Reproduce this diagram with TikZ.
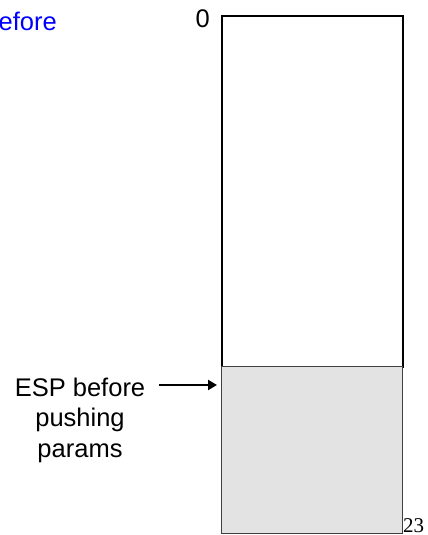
\documentclass[tikz,border=0pt]{standalone}
\usepackage{fontspec}
\setmainfont{Liberation Sans}
\newfontfamily\pagenumfont{Liberation Serif}
\usetikzlibrary{arrows.meta,positioning}

\begin{document}
\begin{tikzpicture}[x=1pt,y=-1pt,
          every node/.style={inner sep=0pt,font=\fontsize{25.5}{30.5}\selectfont},
          stackbox/.style={draw,line width=1.6pt,minimum width=181pt,anchor=north west},
          paramarea/.style={draw=black!75,line width=0.8pt,fill=black!11,
            minimum width=181pt,anchor=north west},
          pointer/.style={-{Triangle[length=9pt,width=10pt]},line width=2.2pt}]
          \clip (0,0) rectangle (428,535);
          \node[anchor=base east,text=blue] (title) at (57,31) {Before};
          \node[stackbox,minimum height=351pt] (stack) at (221,15) {};
          \node[paramarea,minimum height=167pt] (params) at (221,366) {};
          \node[anchor=base east] (zero) at (210,28) {0};
          \node[anchor=base west,font=\pagenumfont\fontsize{21}{24}\selectfont]
            (pagenum) at (403,532) {23};
          % base of a multi-line node is its last line
          \node[align=center,anchor=base] (esp) at (80,457)
            {ESP before\\pushing\\params};
          \coordinate (espmark) at (217,385);
          \coordinate (esptail) at (159,385);
          \draw[pointer] (esptail) -- (espmark);
        \end{tikzpicture}
\end{document}
